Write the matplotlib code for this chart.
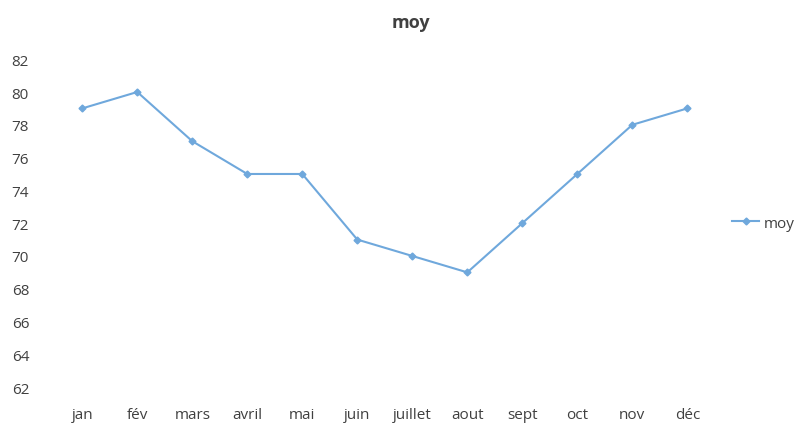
import matplotlib.pyplot as plt

# monthly averages
months = ["jan", "fév", "mars", "avril", "mai", "juin", "juillet",
          "aout", "sept", "oct", "nov", "déc"]
moy = [79, 80, 77, 75, 75, 71, 70, 69, 72, 75, 78, 79]
yticks = [62, 64, 66, 68, 70, 72, 74, 76, 78, 80, 82]

plt.rcParams["font.family"] = ["Open Sans", "DejaVu Sans"]
text_color = "#404040"
line_color = "#6fa8dc"

fig = plt.figure(figsize=(8.05, 4.27), dpi=100)
ax = fig.add_axes([0.068, 0.091, 0.82, 0.768])

x = list(range(len(months)))
ax.plot(x, moy, color=line_color, linewidth=1.5, marker="D",
        markersize=3.5, label="moy")

ax.set_xlim(-0.5, len(months) - 0.5)
ax.set_ylim(62, 82)
ax.set_yticks(yticks)
ax.set_xticks(x)
ax.set_xticklabels(months)

for s in ax.spines.values():
    s.set_visible(False)
ax.tick_params(axis="both", length=0, labelsize=11, colors=text_color)
ax.tick_params(axis="x", pad=14)
ax.tick_params(axis="y", pad=31)
for lab in ax.get_yticklabels():
    lab.set_horizontalalignment("left")

fig.text(0.51, 0.945, "moy", ha="center", va="center",
         fontsize=13, fontweight="bold", color=text_color)

ax.legend(loc="center left", bbox_to_anchor=(1.005, 0.5), frameon=False,
          fontsize=11, handlelength=1.8, handletextpad=0.3,
          labelcolor=text_color)

fig.savefig("out.png", dpi=100)
